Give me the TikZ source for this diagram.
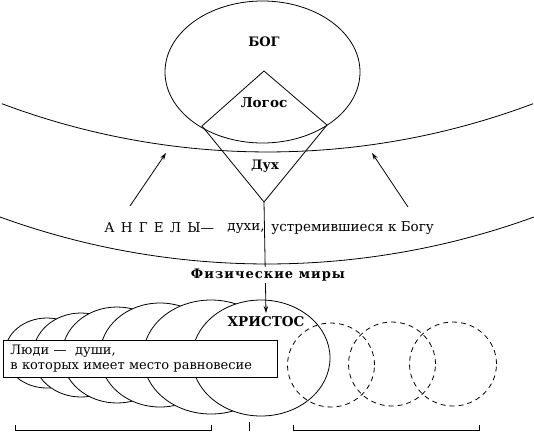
\documentclass[tikz,border=0pt]{standalone}
\usepackage{fontspec}
\setmainfont{DejaVu Serif}
\newfontfamily\spacedbf[LetterSpace=8]{DejaVu Serif}
\usetikzlibrary{shapes.geometric,arrows.meta}
\newcommand{\lgap}{\hspace{6.2pt}}
\begin{document}
\begin{tikzpicture}[x=1pt,y=-1pt,line width=0.8pt,
  boldlbl/.style={inner sep=0pt,font=\bfseries\fontsize{13}{15}\selectfont},
  plainlbl/.style={inner sep=0pt,font=\fontsize{13.5}{16}\selectfont},
  soul/.style={ellipse,draw,fill=white,inner sep=0pt},
  future/.style={ellipse,draw,dash pattern=on 5pt off 4pt,inner sep=0pt,minimum width=87pt,minimum height=84pt},
  arr/.style={-{Stealth[length=7pt,width=4.5pt]}},
  brk/.style={line width=1pt}]
\useasboundingbox (0,0) rectangle (534,432);

% God
\node[ellipse,draw,inner sep=0pt,minimum width=195pt,minimum height=142pt] (god) at (262.5,72) {};
\node[boldlbl] (godtxt) at (264,42) {БОГ};

% worlds boundaries
\draw (267.5,-603) ++(110.6:755) arc[start angle=110.6,end angle=69.4,radius=755];
\draw (267,-518) ++(110.1:782) arc[start angle=110.1,end angle=69.9,radius=782];

% diamond
\coordinate (dt) at (264,71);
\coordinate (dl) at (202,126);
\coordinate (db) at (264,202);
\coordinate (dr) at (327,125);
\draw (dt) -- (dl) -- (db) -- (dr) -- cycle;
\node[boldlbl,font=\bfseries\fontsize{13.5}{15}\selectfont] (logos) at (264,103) {Логос};
\node[boldlbl] (spirit) at (265,166) {Дух};

% angels
\node[plainlbl,anchor=west] (angels) at (104,228) {А\lgap Н\lgap Г\lgap Е\lgap Л\lgap Ы—};
\node[plainlbl,anchor=east] (spirits) at (265,228) {духи,};
\node[plainlbl,anchor=west] (aspire) at (271,228) {устремившиеся к Богу};
\coordinate (la0) at (130,206);
\coordinate (la1) at (166,153);
\coordinate (ra0) at (408,207);
\coordinate (ra1) at (372,153);
\draw[arr] (la0) -- (la1);
\draw[arr] (ra0) -- (ra1);

% human souls
\node[soul,minimum width=84pt,minimum height=70pt] (e1) at (47,353) {};
\node[soul,minimum width=96pt,minimum height=84pt] (e2) at (81,355) {};
\node[soul,minimum width=110pt,minimum height=96pt] (e3) at (117,355) {};
\node[soul,minimum width=120pt,minimum height=104pt] (e4) at (160,355) {};
\node[soul,minimum width=136pt,minimum height=114pt] (e5) at (211,357) {};
\node[soul,minimum width=138pt,minimum height=116pt] (christ) at (261,358) {};
\node[future] (d1) at (331,365) {};
\node[future] (d2) at (392,364) {};
\node[future] (d3) at (453,364) {};
\node[boldlbl,font=\bfseries\fontsize{13.5}{15}\selectfont] (christtxt) at (266,322) {ХРИСТОС};

\node[draw,fill=white,anchor=north west,align=left,minimum width=274pt,minimum height=37pt,
      text width=260pt,inner xsep=7pt,inner ysep=2pt,font=\fontsize{13}{15}\selectfont] (people) at (3,340)
  {Люди —\ \ души,\\в которых имеет место равновесие};

% descent
\coordinate (ctop) at (266,313);
\draw[arr] (db) -- (ctop);
\node[inner sep=1.5pt,fill=white,font=\spacedbf\bfseries\fontsize{13}{15}\selectfont] (phys) at (268,275) {Физические миры};

% brackets
\coordinate (lb1) at (15,425); \coordinate (lb2) at (15,430);
\coordinate (lb3) at (211,430); \coordinate (lb4) at (211,425);
\coordinate (rb1) at (293,425); \coordinate (rb2) at (293,430);
\coordinate (rb3) at (479,430); \coordinate (rb4) at (479,425);
\coordinate (mt1) at (249,422); \coordinate (mt2) at (249,431);
\draw[brk] (lb1) -- (lb2) -- (lb3) -- (lb4);
\draw[brk] (rb1) -- (rb2) -- (rb3) -- (rb4);
\draw[brk] (mt1) -- (mt2);
\end{tikzpicture}
\end{document}
